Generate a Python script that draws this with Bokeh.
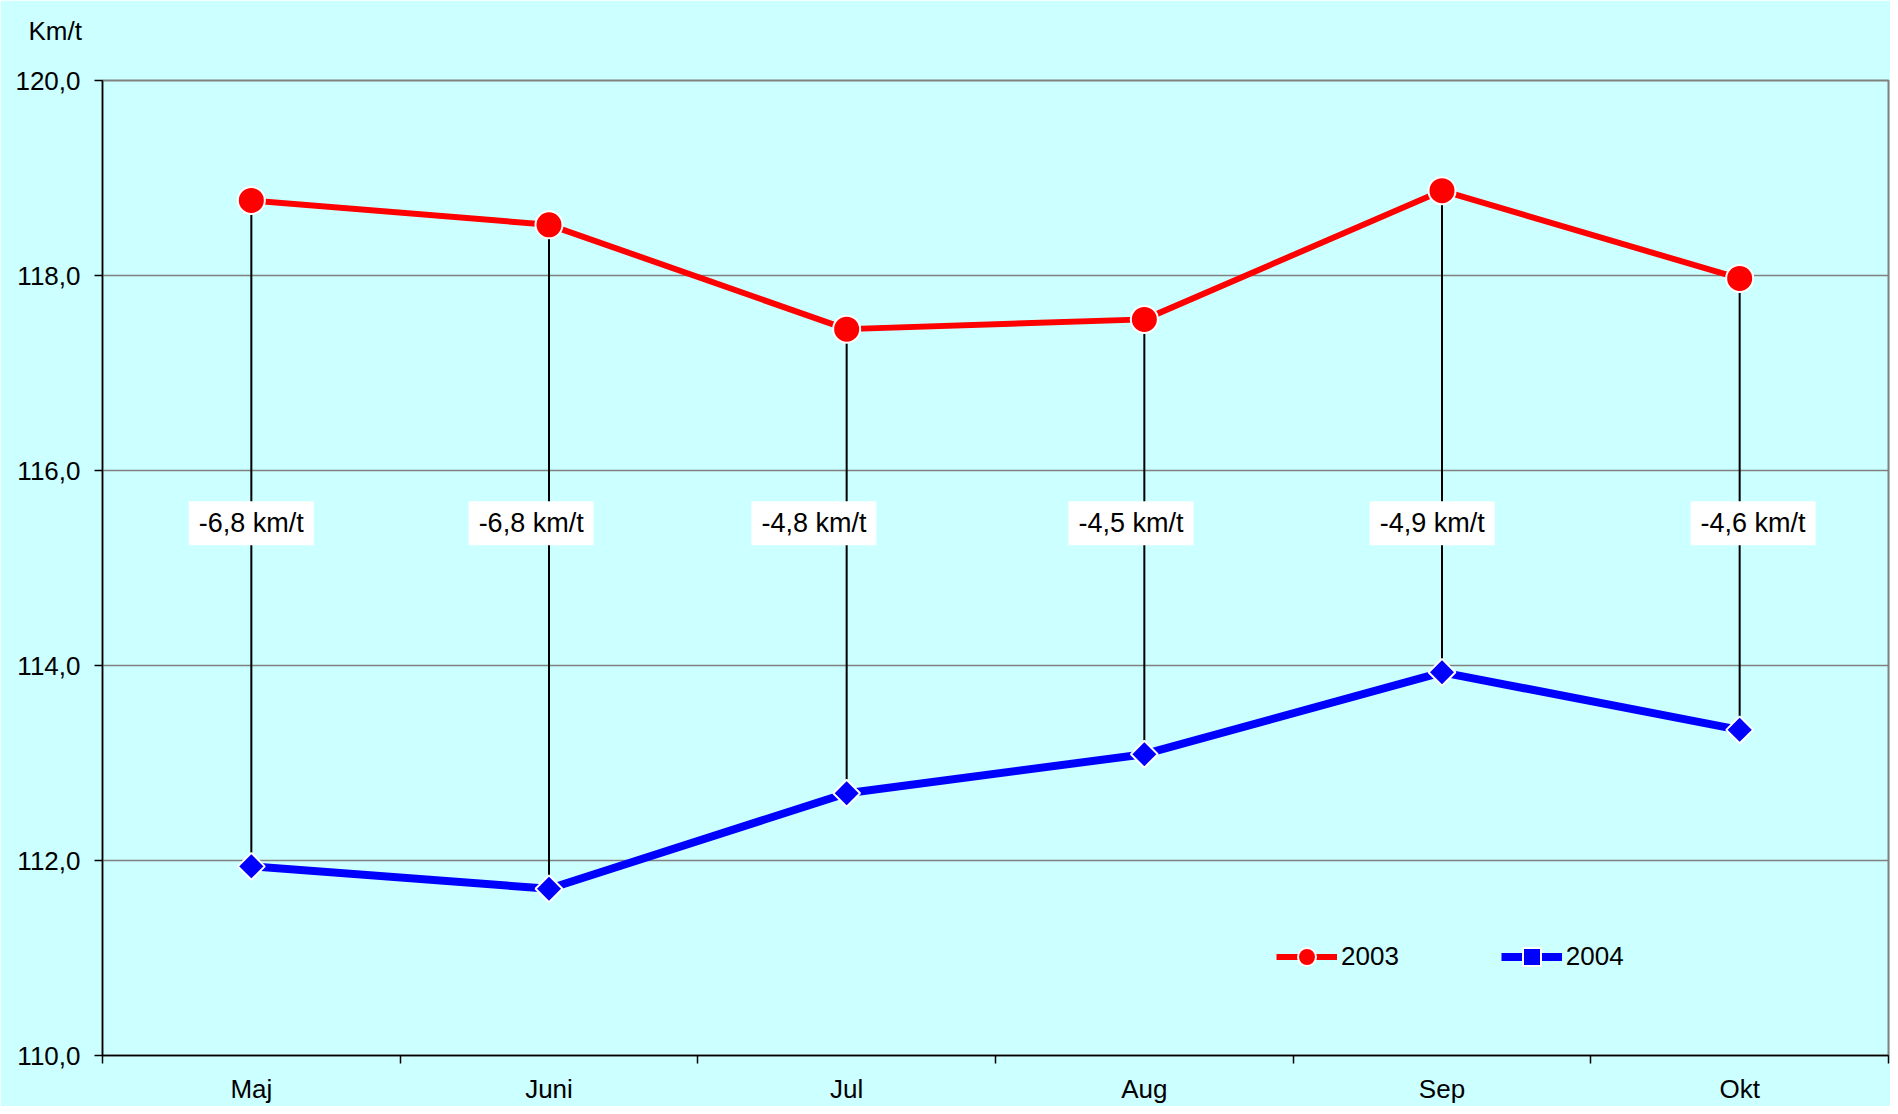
import math
from bokeh.plotting import figure
from bokeh.models import (Range1d, FixedTicker, Label, Legend, LegendItem, Title)
from bokeh.embed import file_html
from bokeh.resources import INLINE

# ---- data ----
months = ["Maj", "Juni", "Jul", "Aug", "Sep", "Okt"]
km_2003 = [118.77, 118.52, 117.45, 117.55, 118.87, 117.97]
km_2004 = [111.94, 111.71, 112.69, 113.09, 113.93, 113.34]
diff_labels = ["-6,8 km/t", "-6,8 km/t", "-4,8 km/t", "-4,5 km/t", "-4,9 km/t", "-4,6 km/t"]
y_ticks = [110, 112, 114, 116, 118, 120]
y_tick_labels = ["110,0", "112,0", "114,0", "116,0", "118,0", "120,0"]
y_title = "Km/t"

# ---- style / placement ----
FONT = "Liberation Sans"
FS = "26px"
FS_LAB = "27px"
BG = "#CCFFFF"
label_y = 115.46
label_dx = [0.0, -0.06, -0.11, -0.045, -0.033, 0.045]

xc = [i + 0.5 for i in range(len(months))]

p = figure(width=1890, height=1106, output_backend="svg", toolbar_location=None,
           x_range=Range1d(0, len(months)), y_range=Range1d(110, 120),
           min_border_left=102, min_border_right=2, min_border_top=80,
           min_border_bottom=40)
p.background_fill_color = BG
p.border_fill_color = BG
p.outline_line_color = "#808080"
p.outline_line_width = 2

# y title above the axis (a blank second line lifts it to the top edge)
p.title = Title(text=y_title + "\n ", align="left", offset=-74, standoff=10,
                vertical_align="bottom",
                text_font=FONT, text_font_size=FS, text_font_style="normal",
                text_color="black")

# axes
p.xaxis.ticker = FixedTicker(ticks=xc, minor_ticks=list(range(len(months) + 1)))
p.xaxis.major_label_overrides = {x: m for x, m in zip(xc, months)}
p.xaxis.major_tick_line_color = None
p.xaxis.minor_tick_line_color = "black"
p.xaxis.minor_tick_line_width = 1.5
p.xaxis.minor_tick_out = 8
p.xaxis.minor_tick_in = 0
p.xaxis.axis_line_color = "black"
p.xaxis.axis_line_width = 1.5
p.xaxis.major_label_standoff = 10

p.yaxis.ticker = FixedTicker(ticks=y_ticks)
p.yaxis.major_label_overrides = {t: l for t, l in zip(y_ticks, y_tick_labels)}
p.yaxis.major_tick_line_color = "black"
p.yaxis.major_tick_line_width = 1.5
p.yaxis.major_tick_out = 8
p.yaxis.major_tick_in = 0
p.yaxis.minor_tick_line_color = None
p.yaxis.axis_line_color = "black"
p.yaxis.axis_line_width = 1.5
p.yaxis.major_label_standoff = 14

for ax in (p.xaxis, p.yaxis):
    ax.major_label_text_font = FONT
    ax.major_label_text_font_size = FS
    ax.major_label_text_color = "black"

p.xgrid.grid_line_color = None
p.ygrid.ticker = FixedTicker(ticks=y_ticks)
p.ygrid.grid_line_color = "#808080"
p.ygrid.grid_line_width = 1.5

# vertical connectors
p.segment(x0=xc, y0=km_2004, x1=xc, y1=km_2003, line_color="black", line_width=2)

# series
l1 = p.line(xc, km_2003, line_color="#FF0000", line_width=6)
s1 = p.scatter(xc, km_2003, marker="circle", size=27, fill_color="#FF0000",
               line_color="white", line_width=2)
l2 = p.line(xc, km_2004, line_color="#0000FF", line_width=8)
s2 = p.scatter(xc, km_2004, marker="square", angle=math.pi / 4, size=19,
               fill_color="#0000FF", line_color="white", line_width=2)

# difference labels
for x, d, t in zip(xc, label_dx, diff_labels):
    p.add_layout(Label(x=x + d, y=label_y, text=t, text_align="center",
                       text_baseline="middle", text_font=FONT, text_font_size=FS_LAB,
                       text_color="black", background_fill_color="white",
                       padding=(10, 7)))

legend = Legend(items=[LegendItem(label="2003", renderers=[l1, s1]),
                       LegendItem(label="2004", renderers=[l2, s2])],
                orientation="horizontal", location=(1174, 76),
                background_fill_alpha=0, border_line_color=None,
                padding=0, margin=0, spacing=102, glyph_width=61,
                glyph_height=45, label_height=20, label_standoff=4,
                label_text_font=FONT, label_text_font_size=FS,
                label_text_color="black")
p.add_layout(legend)

open("out.html", "w").write(file_html(p, INLINE))
